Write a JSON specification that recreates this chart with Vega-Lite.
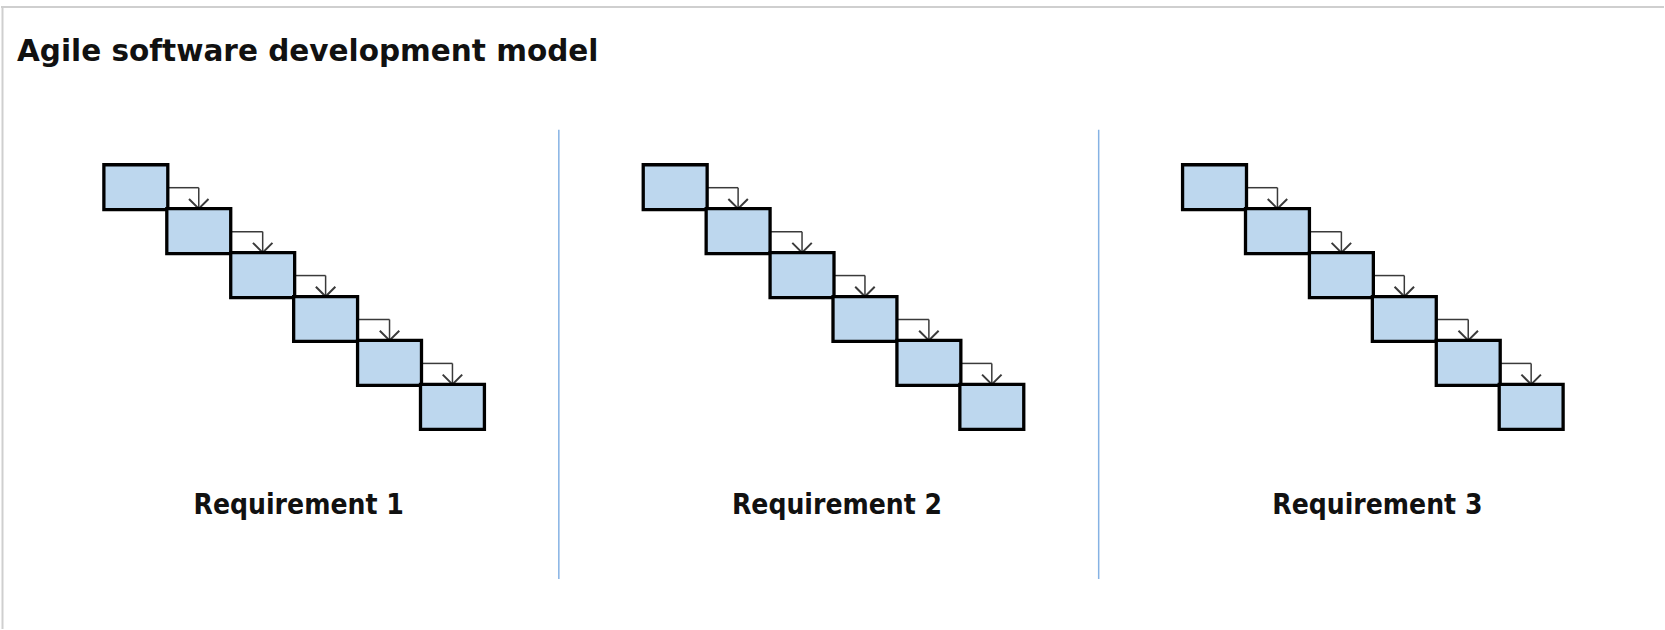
{
  "$schema": "https://vega.github.io/schema/vega-lite/v6.json",
  "width": 1665,
  "height": 630,
  "autosize": {"type": "fit", "contains": "padding"},
  "padding": 0,
  "background": "white",
  "config": {"view": {"stroke": null}},
  "datasets": {
    "frame": [
      {"part": "top", "xa": 0, "xb": 1665, "ya": 7, "yb": 7},
      {"part": "left", "xa": 1.5, "xb": 1.5, "ya": 7, "yb": 630}
    ],
    "separators": [
      {"sep": 1, "x": 558.5, "ya": 130, "yb": 580},
      {"sep": 2, "x": 1099, "ya": 130, "yb": 580}
    ],
    "boxes": [
      {"req": "Requirement 1", "phase": 1, "xa": 103, "xb": 167, "ya": 165, "yb": 210},
      {"req": "Requirement 1", "phase": 2, "xa": 166, "xb": 230, "ya": 209, "yb": 254},
      {"req": "Requirement 1", "phase": 3, "xa": 230, "xb": 294, "ya": 253, "yb": 298},
      {"req": "Requirement 1", "phase": 4, "xa": 293, "xb": 357, "ya": 297, "yb": 342},
      {"req": "Requirement 1", "phase": 5, "xa": 357, "xb": 421, "ya": 341, "yb": 386},
      {"req": "Requirement 1", "phase": 6, "xa": 420, "xb": 484, "ya": 385, "yb": 430},
      {"req": "Requirement 2", "phase": 1, "xa": 643, "xb": 707, "ya": 165, "yb": 210},
      {"req": "Requirement 2", "phase": 2, "xa": 706, "xb": 770, "ya": 209, "yb": 254},
      {"req": "Requirement 2", "phase": 3, "xa": 770, "xb": 834, "ya": 253, "yb": 298},
      {"req": "Requirement 2", "phase": 4, "xa": 833, "xb": 897, "ya": 297, "yb": 342},
      {"req": "Requirement 2", "phase": 5, "xa": 897, "xb": 961, "ya": 341, "yb": 386},
      {"req": "Requirement 2", "phase": 6, "xa": 960, "xb": 1024, "ya": 385, "yb": 430},
      {"req": "Requirement 3", "phase": 1, "xa": 1183, "xb": 1247, "ya": 165, "yb": 210},
      {"req": "Requirement 3", "phase": 2, "xa": 1246, "xb": 1310, "ya": 209, "yb": 254},
      {"req": "Requirement 3", "phase": 3, "xa": 1310, "xb": 1374, "ya": 253, "yb": 298},
      {"req": "Requirement 3", "phase": 4, "xa": 1373, "xb": 1437, "ya": 297, "yb": 342},
      {"req": "Requirement 3", "phase": 5, "xa": 1437, "xb": 1501, "ya": 341, "yb": 386},
      {"req": "Requirement 3", "phase": 6, "xa": 1500, "xb": 1564, "ya": 385, "yb": 430}
    ],
    "arrows": [
      {"req": "Requirement 1", "from": 1, "xs": 167, "xm": 198, "ym": 188, "yt": 209},
      {"req": "Requirement 1", "from": 2, "xs": 230, "xm": 262, "ym": 232, "yt": 253},
      {"req": "Requirement 1", "from": 3, "xs": 294, "xm": 325, "ym": 276, "yt": 297},
      {"req": "Requirement 1", "from": 4, "xs": 357, "xm": 389, "ym": 320, "yt": 341},
      {"req": "Requirement 1", "from": 5, "xs": 421, "xm": 452, "ym": 364, "yt": 385},
      {"req": "Requirement 2", "from": 1, "xs": 707, "xm": 738, "ym": 188, "yt": 209},
      {"req": "Requirement 2", "from": 2, "xs": 770, "xm": 802, "ym": 232, "yt": 253},
      {"req": "Requirement 2", "from": 3, "xs": 834, "xm": 865, "ym": 276, "yt": 297},
      {"req": "Requirement 2", "from": 4, "xs": 897, "xm": 929, "ym": 320, "yt": 341},
      {"req": "Requirement 2", "from": 5, "xs": 961, "xm": 992, "ym": 364, "yt": 385},
      {"req": "Requirement 3", "from": 1, "xs": 1247, "xm": 1278, "ym": 188, "yt": 209},
      {"req": "Requirement 3", "from": 2, "xs": 1310, "xm": 1342, "ym": 232, "yt": 253},
      {"req": "Requirement 3", "from": 3, "xs": 1374, "xm": 1405, "ym": 276, "yt": 297},
      {"req": "Requirement 3", "from": 4, "xs": 1437, "xm": 1469, "ym": 320, "yt": 341},
      {"req": "Requirement 3", "from": 5, "xs": 1501, "xm": 1532, "ym": 364, "yt": 385}
    ],
    "labels": [
      {"text": "Requirement 1", "x": 298, "y": 515},
      {"text": "Requirement 2", "x": 837, "y": 515},
      {"text": "Requirement 3", "x": 1378, "y": 515}
    ],
    "titles": [
      {"text": "Agile software development model", "x": 16, "y": 61}
    ]
  },
  "layer": [
    {
      "data": {"name": "frame"},
      "mark": {"type": "rule", "color": "#cfcfcf", "strokeWidth": 2},
      "encoding": {
        "x": {"field": "xa", "type": "quantitative", "scale": {"domain": [0, 1665], "nice": false, "zero": false}, "axis": null},
        "x2": {"field": "xb"},
        "y": {"field": "ya", "type": "quantitative", "scale": {"domain": [0, 630], "nice": false, "zero": false, "reverse": true}, "axis": null},
        "y2": {"field": "yb"}
      }
    },
    {
      "data": {"name": "separators"},
      "mark": {"type": "rule", "color": "#86b2e4", "strokeWidth": 1.5},
      "encoding": {
        "x": {"field": "x", "type": "quantitative", "scale": {"domain": [0, 1665], "nice": false, "zero": false}, "axis": null},
        "y": {"field": "ya", "type": "quantitative", "scale": {"domain": [0, 630], "nice": false, "zero": false, "reverse": true}, "axis": null},
        "y2": {"field": "yb"}
      }
    },
    {
      "data": {"name": "arrows"},
      "mark": {"type": "rule", "color": "#3a3a3a", "strokeWidth": 1.5},
      "encoding": {
        "x": {"field": "xs", "type": "quantitative", "scale": {"domain": [0, 1665], "nice": false, "zero": false}, "axis": null},
        "x2": {"field": "xm"},
        "y": {"field": "ym", "type": "quantitative", "scale": {"domain": [0, 630], "nice": false, "zero": false, "reverse": true}, "axis": null}
      }
    },
    {
      "data": {"name": "arrows"},
      "mark": {"type": "rule", "color": "#3a3a3a", "strokeWidth": 1.5},
      "encoding": {
        "x": {"field": "xm", "type": "quantitative", "scale": {"domain": [0, 1665], "nice": false, "zero": false}, "axis": null},
        "y": {"field": "ym", "type": "quantitative", "scale": {"domain": [0, 630], "nice": false, "zero": false, "reverse": true}, "axis": null},
        "y2": {"field": "yt"}
      }
    },
    {
      "data": {"name": "arrows"},
      "mark": {"type": "point", "shape": "M-1,-1L0,0L1,-1", "filled": false, "color": "#3a3a3a", "strokeWidth": 2, "size": 380, "opacity": 1},
      "encoding": {
        "x": {"field": "xm", "type": "quantitative", "scale": {"domain": [0, 1665], "nice": false, "zero": false}, "axis": null},
        "y": {"field": "yt", "type": "quantitative", "scale": {"domain": [0, 630], "nice": false, "zero": false, "reverse": true}, "axis": null}
      }
    },
    {
      "data": {"name": "boxes"},
      "mark": {"type": "rect", "fill": "#bdd7ee", "stroke": "#000000", "strokeWidth": 3.3},
      "encoding": {
        "x": {"field": "xa", "type": "quantitative", "scale": {"domain": [0, 1665], "nice": false, "zero": false}, "axis": null},
        "x2": {"field": "xb"},
        "y": {"field": "ya", "type": "quantitative", "scale": {"domain": [0, 630], "nice": false, "zero": false, "reverse": true}, "axis": null},
        "y2": {"field": "yb"}
      }
    },
    {
      "data": {"name": "labels"},
      "mark": {"type": "text", "font": "DejaVu Sans Condensed", "fontWeight": "bold", "fontSize": 28, "align": "center", "baseline": "alphabetic", "color": "#111111"},
      "encoding": {
        "x": {"field": "x", "type": "quantitative", "scale": {"domain": [0, 1665], "nice": false, "zero": false}, "axis": null},
        "y": {"field": "y", "type": "quantitative", "scale": {"domain": [0, 630], "nice": false, "zero": false, "reverse": true}, "axis": null},
        "text": {"field": "text"}
      }
    },
    {
      "data": {"name": "titles"},
      "mark": {"type": "text", "font": "DejaVu Sans", "fontWeight": "bold", "fontSize": 29.5, "align": "left", "baseline": "alphabetic", "color": "#111111"},
      "encoding": {
        "x": {"field": "x", "type": "quantitative", "scale": {"domain": [0, 1665], "nice": false, "zero": false}, "axis": null},
        "y": {"field": "y", "type": "quantitative", "scale": {"domain": [0, 630], "nice": false, "zero": false, "reverse": true}, "axis": null},
        "text": {"field": "text"}
      }
    }
  ]
}
